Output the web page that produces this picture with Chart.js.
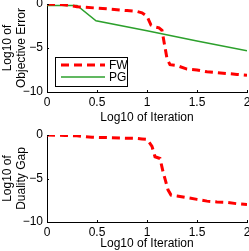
<!DOCTYPE html>
<html>
<head>
<meta charset="utf-8">
<script src="https://cdn.jsdelivr.net/npm/chart.js@4"></script>
<style>
  body { margin: 0; background: #fff; overflow: hidden; }
  .box { position: absolute; left: 0; width: 249px; }
</style>
</head>
<body>
<div class="box" style="top:0"><canvas id="topChart" width="249" height="125"></canvas></div>
<div class="box" style="top:125px"><canvas id="bottomChart" width="249" height="126"></canvas></div>
<script>
// log10 of iteration for each series
const fwX = [0, 0.15, 0.3, 0.48, 0.6, 0.7, 0.8, 0.9, 0.95, 1.0, 1.04, 1.08, 1.12, 1.15, 1.2, 1.23, 1.3, 1.4, 1.5, 1.6, 1.7, 1.8, 1.9, 2.0]
const fwObjective = [0, -0.05, -0.3, -0.45, -0.55, -0.65, -0.75, -0.85, -1.0, -1.4, -2.4, -2.6, -2.7, -3.0, -6.2, -6.9, -7.0, -7.4, -7.5, -7.7, -7.8, -7.9, -8.0, -8.1]
const pgX = [0, 0.3, 0.49, 1.0, 1.5, 2.0]
const pgObjective = [-0.17, -0.17, -1.9, -3.05, -4.2, -5.3]
const gapX = [0, 0.18, 0.3, 0.45, 0.6, 0.75, 0.9, 0.95, 1.0, 1.05, 1.08, 1.13, 1.16, 1.21, 1.24, 1.3, 1.4, 1.5, 1.6, 1.7, 1.8, 1.9, 2.0]
const fwGap = [0, -0.05, -0.1, -0.25, -0.3, -0.35, -0.4, -0.45, -0.5, -1.3, -2.5, -2.7, -4.2, -6.3, -6.9, -7.0, -7.2, -7.4, -7.6, -7.7, -7.75, -7.9, -8.0]

const xTicks = [0, 0.5, 1, 1.5, 2]
const xTickLabels = ['0', '0.5', '1', '1.5', '2']
const yTicks = [0, -5, -10]
const yTickLabels = ['0', '\u22125', '\u221210']

const font = { family: 'Liberation Sans, Arial, sans-serif', size: 12 }

function toPoints(xs, ys) {
  return xs.map(function (x, i) { return { x: x, y: ys[i] } })
}

// legend inside the plot and small inward ticks, like the original
const extras = {
  id: 'extras',
  afterDraw(chart, args, opts) {
    const ctx = chart.ctx
    const a = chart.chartArea
    const sx = chart.scales.x, sy = chart.scales.y
    ctx.save()
    ctx.strokeStyle = '#000'
    ctx.lineWidth = 1
    ctx.beginPath()
    xTicks.forEach(function (v) {
      const px = Math.round(sx.getPixelForValue(v)) + 0.5
      ctx.moveTo(px, a.bottom)
      ctx.lineTo(px, a.bottom - 2)
    })
    yTicks.forEach(function (v) {
      const py = Math.round(sy.getPixelForValue(v)) + 0.5
      ctx.moveTo(a.left, py)
      ctx.lineTo(a.left + 2, py)
    })
    ctx.stroke()

    if (opts.showLegend) {
      const x0 = a.left + 8, y0 = a.top + 53
      ctx.fillStyle = '#fff'
      ctx.fillRect(x0, y0, 72, 29)
      ctx.strokeRect(x0 + 0.5, y0 + 0.5, 72, 29)
      chart.data.datasets.forEach(function (ds, i) {
        const yy = y0 + 8 + i * 12
        ctx.beginPath()
        ctx.strokeStyle = ds.borderColor
        ctx.lineWidth = ds.borderWidth
        ctx.setLineDash(ds.borderDash || [])
        ctx.moveTo(x0 + 6, yy)
        ctx.lineTo(x0 + 50, yy)
        ctx.stroke()
        ctx.setLineDash([])
        ctx.fillStyle = '#000'
        ctx.font = '12px ' + font.family
        ctx.textBaseline = 'middle'
        ctx.fillText(ds.label, x0 + 54, yy + 1)
      })
    }
    ctx.restore()
  }
}

function noPad(s) {
  s.paddingLeft = 0; s.paddingRight = 0; s.paddingTop = 0; s.paddingBottom = 0
}

function makeChart(id, datasets, yTitle, padTop, xHeight, titlePad, showLegend) {
  const ctx = document.getElementById(id).getContext('2d')
  return new Chart(ctx, {
    type: 'line',
    data: { datasets: datasets },
    plugins: [extras],
    options: {
      responsive: false,
      animation: false,
      layout: { autoPadding: false, padding: { top: padTop, right: 2, left: 0, bottom: 0 } },
      plugins: {
        legend: { display: false },
        tooltip: { enabled: false },
        extras: { showLegend: showLegend }
      },
      elements: { point: { radius: 0 }, line: { tension: 0 } },
      scales: {
        x: {
          type: 'linear', min: 0, max: 2,
          grid: { display: false, drawTicks: false },
          border: { display: true, color: '#000', width: 1 },
          afterBuildTicks: function (s) { s.ticks = xTicks.map(function (v) { return { value: v } }) },
          afterFit: function (s) { s.height = xHeight; noPad(s) },
          ticks: {
            color: '#000', font: font, padding: 3, maxRotation: 0,
            callback: function (v) { return xTickLabels[xTicks.indexOf(v)] }
          },
          title: { display: true, text: 'Log10 of Iteration', color: '#000', font: font, padding: { top: titlePad, bottom: 0 } }
        },
        y: {
          type: 'linear', min: -10, max: 0,
          grid: { display: false, drawTicks: false },
          border: { display: true, color: '#000', width: 1 },
          afterBuildTicks: function (s) { s.ticks = yTicks.map(function (v) { return { value: v } }) },
          afterFit: function (s) { s.width = 47; noPad(s) },
          ticks: {
            color: '#000', font: font, padding: 4,
            callback: function (v) { return yTickLabels[yTicks.indexOf(v)] }
          },
          title: { display: true, text: yTitle, color: '#000', font: font, padding: { top: 0, bottom: 0 } }
        }
      }
    }
  })
}

const fwStyle = { borderColor: '#ff0000', borderWidth: 3, borderDash: [8, 5], fill: false }

makeChart('topChart', [
  Object.assign({ label: 'FW', data: toPoints(fwX, fwObjective) }, fwStyle),
  { label: 'PG', data: toPoints(pgX, pgObjective), borderColor: '#2ca02c', borderWidth: 1.5, fill: false }
], ['Log10 of', 'Objective Error'], 4, 33, 1, true)

makeChart('bottomChart', [
  Object.assign({ label: 'FW', data: toPoints(gapX, fwGap) }, fwStyle)
], ['Log10 of', 'Duality Gap'], 10, 29, 3, false)
</script>
</body>
</html>
